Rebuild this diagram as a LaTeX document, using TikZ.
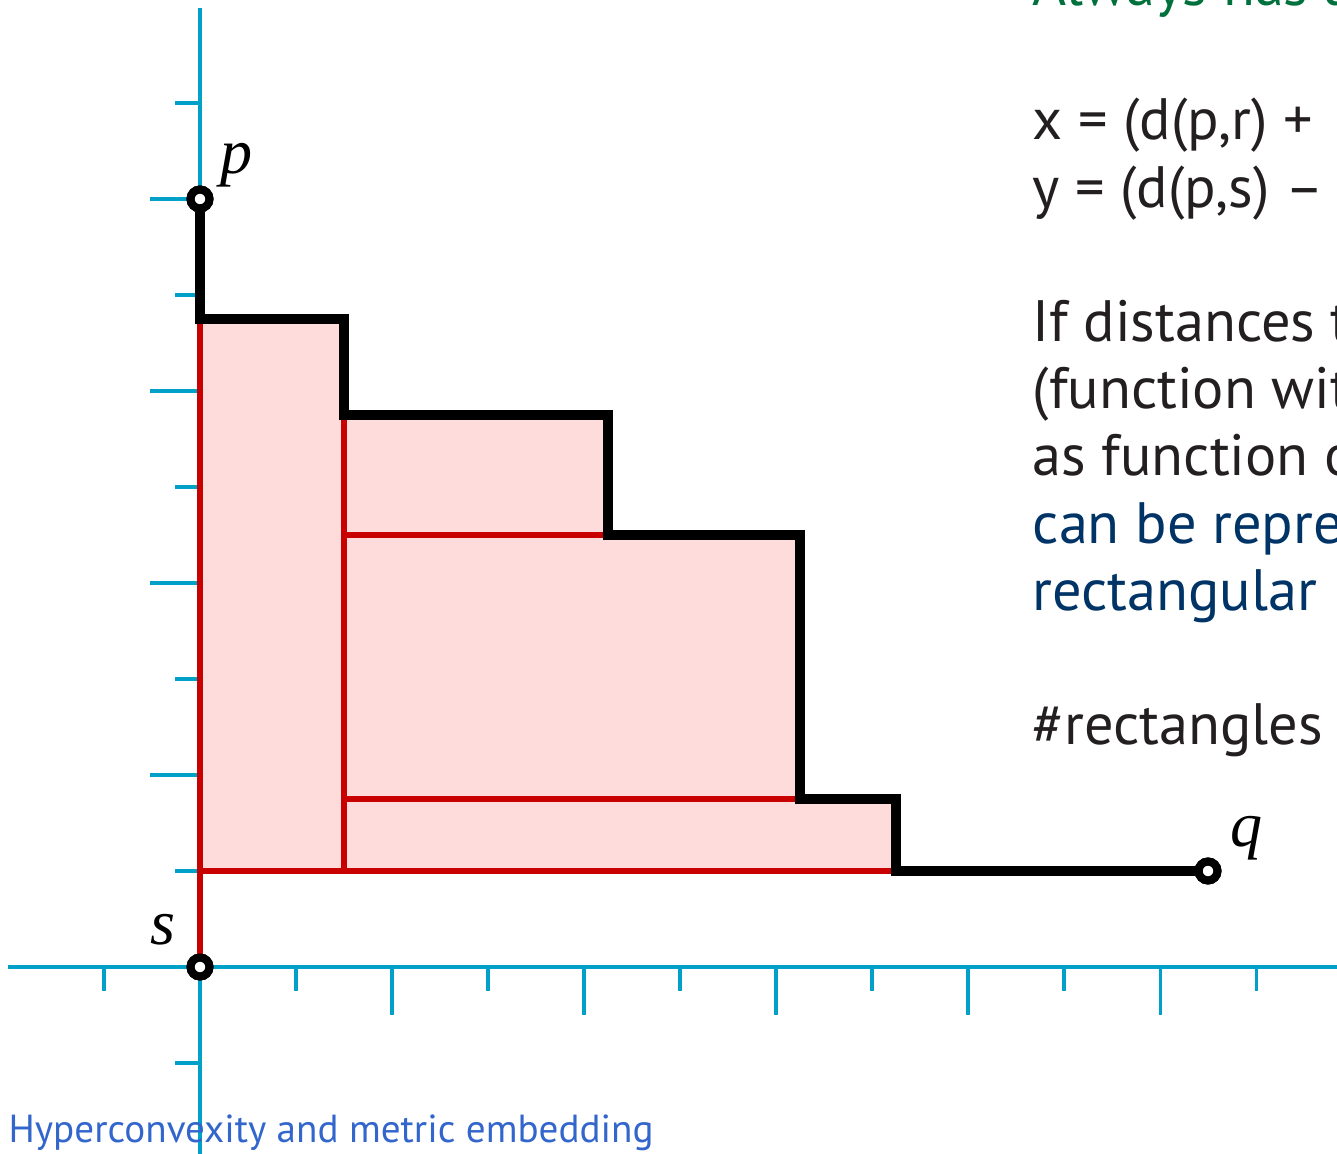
\documentclass[tikz,border=0pt]{standalone}
\usepackage{fontspec}
\setmainfont{PT Sans}
\newfontfamily\labelfont{Liberation Serif}
\usepackage{xcolor}
\usepackage{pgf,tikz}
\usetikzlibrary{positioning}

\definecolor{axiscyan}{RGB}{0,160,200}
\definecolor{rectred}{RGB}{200,0,0}
\definecolor{rectpink}{RGB}{255,220,220}
\definecolor{textgreen}{RGB}{0,112,60}
\definecolor{textnavy}{RGB}{0,51,102}
\definecolor{textgray}{RGB}{35,31,32}
\definecolor{titleblue}{RGB}{51,102,204}

\tikzset{
	axisline/.style={axiscyan, line width=0.9pt},
	redline/.style={rectred, line width=1.5pt},
	stair/.style={black, line width=3pt},
	endpoint/.style={circle, draw=black, fill=white, line width=2.4pt, inner sep=0pt, minimum size=5.6pt},
	ptlabel/.style={inner sep=0pt, font=\labelfont\itshape\fontsize{19}{19}\selectfont},
	bodytext/.style={anchor=base west, inner sep=0pt, font=\fontsize{17.3}{20}\selectfont},
}

\begin{document}
\begin{tikzpicture}[x=1cm, y=1cm]
				\def\xmin{-2.0833}
				\def\xmax{11.8438}
				\def\ymin{-1.9375}
				\def\ymax{10.0729}
				\useasboundingbox (\xmin,\ymin) rectangle (\xmax,\ymax);
				\clip (\xmin,\ymin) rectangle (\xmax,\ymax);
				
				\draw[axisline] (-2,0) -- (12,0);
				\draw[axisline] (0,-2) -- (0,9.99);
				
				\foreach \i in {-1,...,11} {
					\ifnum \i=0 \else
					\pgfmathsetmacro{\len}{ifthenelse(mod(\i,2)==0,0.5,0.25)}
					\draw[axisline] (\i,0) -- (\i,-\len);
					\fi
				}
				\foreach \j in {-1,...,9} {
					\ifnum \j=0 \else
					\pgfmathsetmacro{\len}{ifthenelse(mod(\j,2)==0,0.52,0.26)}
					\draw[axisline] (0,\j) -- (-\len,\j);
					\fi
				}
				
				\node[endpoint] (s) at (0,0) {};
				\node[endpoint] (p) at (0,8) {};
				\node[endpoint] (q) at (10.5,1) {};
				
				\foreach \xa/\ya/\xb/\yb in {0/1/1.5/6.75, 1.5/4.5/4.25/5.75, 1.5/1.75/6.25/4.5, 1.5/1/7.25/1.75} {
					\draw[redline, fill=rectpink] (\xa,\ya) rectangle (\xb,\yb);
				}
				\draw[redline] (s) -- (0,1);
				
				\draw[stair] (p) -- (0,6.75) -| (1.5,5.75) -| (4.25,4.5) -| (6.25,1.75) -| (7.25,1) -- (q);
				
				\node[endpoint] at (s) {};
				\node[endpoint] at (p) {};
				\node[endpoint] at (q) {};
				
				\node[ptlabel] (plabel) at (0.385,8.354) {p};
				\node[ptlabel] (slabel) at (-0.39,0.385) {s};
				\node[ptlabel] (qlabel) at (10.906,1.344) {q};
				
				\foreach \k/\col/\txt in {0/textgreen/{Always has a}, 2/textgray/{x = (d(p,r) +}, 3/textgray/{y = (d(p,s) –}, 5/textgray/{If distances t}, 6/textgray/{(function wit}, 7/textgray/{as function o}, 8/textnavy/{can be repre}, 9/textnavy/{rectangular}, 11/textgray/{\#rectangles}} {
					\node[bodytext, text=\col] (line\k) at (8.6667, {(961.4-67.2*\k)/96}) {\txt};
				}
				
				\node[anchor=base west, inner sep=0pt, text=titleblue, font=\fontsize{11.6}{14}\selectfont] (title) at (-2.0,-1.823) {Hyperconvexity and metric embedding};
			\end{tikzpicture}
\end{document}
